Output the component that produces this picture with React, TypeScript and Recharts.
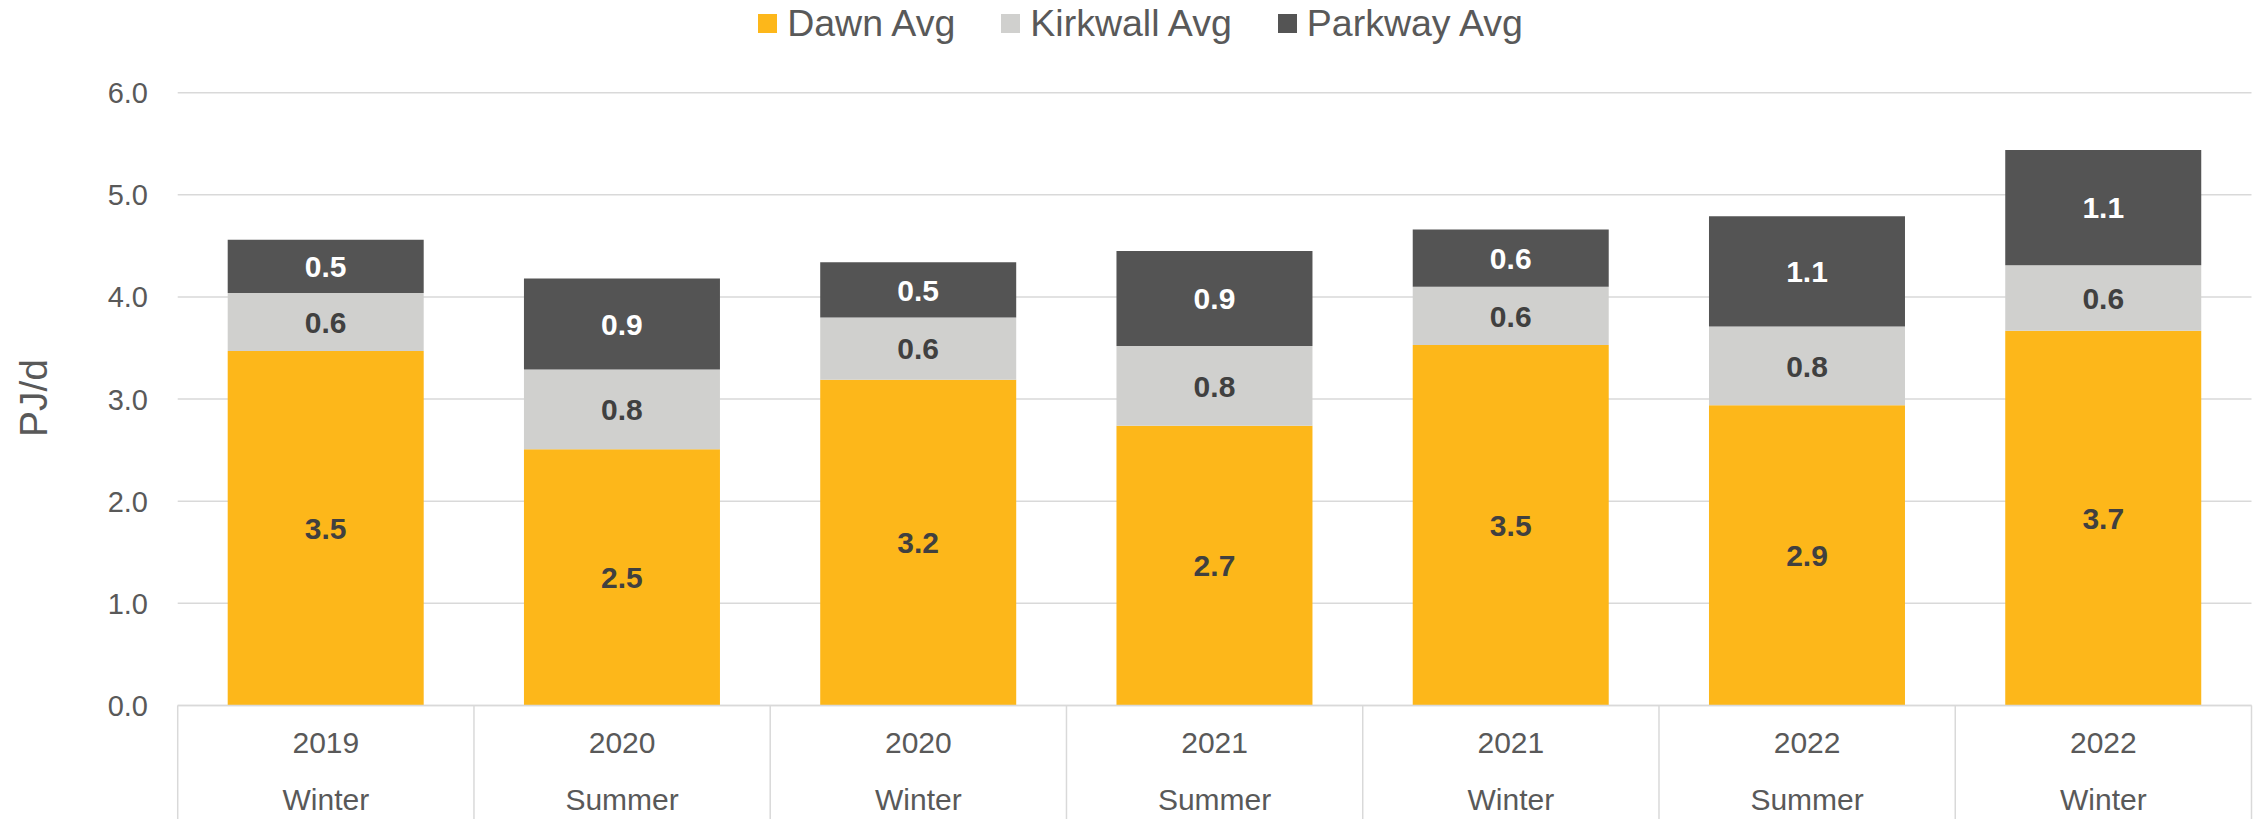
import { BarChart, Bar, XAxis, YAxis, CartesianGrid, Legend, LabelList } from "recharts";

const years = ["2019", "2020", "2020", "2021", "2021", "2022", "2022"];
const seasons = ["Winter", "Summer", "Winter", "Summer", "Winter", "Summer", "Winter"];

const dawnAvg = [3.47, 2.51, 3.19, 2.74, 3.53, 2.94, 3.67];
const kirkwallAvg = [0.57, 0.78, 0.61, 0.78, 0.57, 0.77, 0.64];
const parkwayAvg = [0.52, 0.89, 0.54, 0.93, 0.56, 1.08, 1.13];

const yTicks = [0, 1, 2, 3, 4, 5, 6];

const series = [
  { key: "dawn", name: "Dawn Avg", color: "#FDB71A", labelColor: "#404040" },
  { key: "kirkwall", name: "Kirkwall Avg", color: "#D0D0CE", labelColor: "#404040" },
  { key: "parkway", name: "Parkway Avg", color: "#545454", labelColor: "#FFFFFF" },
];

const data = years.map((y, i) => ({
  label: `${y} ${seasons[i]}`,
  dawn: dawnAvg[i],
  kirkwall: kirkwallAvg[i],
  parkway: parkwayAvg[i],
}));

const W = 2260;
const H = 819;
const PLOT_LEFT = 177.7;
const PLOT_TOP = 92.7;
const PLOT_BOTTOM = 705.5;
const PLOT_RIGHT = 2251.5;
const FONT = '"Liberation Sans", Arial, sans-serif';
const TEXT = "#595959";
const GRID = "#d9d9d9";

const YTick = (props: any) => {
  const { payload } = props;
  return (
    <text x={148} y={payload.coordinate} dy="0.36em" textAnchor="end" fontSize={29} fill={TEXT} fontFamily={FONT}>
      {Number(payload.value).toFixed(1)}
    </text>
  );
};

const XTick = (props: any) => {
  const { payload, index } = props;
  const cx = payload.coordinate;
  const half = payload.offset || (PLOT_RIGHT - PLOT_LEFT) / years.length / 2;
  return (
    <g>
      {index === 0 && <line x1={cx - half} x2={cx - half} y1={PLOT_BOTTOM} y2={H} stroke={GRID} strokeWidth={1.5} />}
      <line x1={cx + half} x2={cx + half} y1={PLOT_BOTTOM} y2={H} stroke={GRID} strokeWidth={1.5} />
      <text x={cx} y={753} textAnchor="middle" fontSize={30} fill={TEXT} fontFamily={FONT}>
        {years[index]}
      </text>
      <text x={cx} y={810} textAnchor="middle" fontSize={30} fill={TEXT} fontFamily={FONT}>
        {seasons[index]}
      </text>
    </g>
  );
};

const renderLegend = () => (
  <div style={{ display: "flex", justifyContent: "center", alignItems: "center", paddingLeft: 21, height: 38 }}>
    {series.map((s, i) => (
      <div key={s.key} style={{ display: "flex", alignItems: "center", marginLeft: i === 0 ? 0 : 46 }}>
        <span style={{ display: "inline-block", width: 19, height: 19, background: s.color, marginRight: 10 }} />
        <span style={{ fontSize: 37.5, lineHeight: "38px", color: TEXT, fontFamily: FONT }}>{s.name}</span>
      </div>
    ))}
  </div>
);

const makeLabel = (color: string) => (props: any) => {
  const { x, y, width, height, value } = props;
  return (
    <text
      x={Number(x) + Number(width) / 2}
      y={Number(y) + Number(height) / 2}
      dy="0.36em"
      textAnchor="middle"
      fontSize={30}
      fontWeight="bold"
      fill={color}
      fontFamily={FONT}
    >
      {Number(value).toFixed(1)}
    </text>
  );
};

export default function App() {
  return (
    <div style={{ position: "absolute", left: 0, top: 0, width: W, height: H, background: "#fff", fontFamily: FONT }}>
      <BarChart
        width={W}
        height={H}
        data={data}
        margin={{ top: PLOT_TOP, right: W - PLOT_RIGHT, left: 0, bottom: 0 }}
        barCategoryGap={50}
      >
        <CartesianGrid vertical={false} stroke={GRID} strokeWidth={1.5} />
        <XAxis
          dataKey="label"
          height={H - PLOT_BOTTOM}
          interval={0}
          tickLine={false}
          axisLine={{ stroke: GRID, strokeWidth: 1.5 }}
          tick={<XTick />}
        />
        <YAxis
          width={PLOT_LEFT}
          domain={[0, 6]}
          ticks={yTicks}
          axisLine={false}
          tickLine={false}
          tick={<YTick />}
          label={{
            content: () => (
              <text
                x={33}
                y={398}
                transform="rotate(-90, 33, 398)"
                textAnchor="middle"
                dy="0.36em"
                fontSize={39}
                fill={TEXT}
                fontFamily={FONT}
              >
                PJ/d
              </text>
            ),
          }}
        />
        <Legend
          verticalAlign="middle"
          align="center"
          layout="horizontal"
          content={renderLegend}
          wrapperStyle={{ top: 4, left: 0, width: W }}
        />
        {series.map((s) => (
          <Bar key={s.key} dataKey={s.key} name={s.name} stackId="a" fill={s.color} isAnimationActive={false}>
            <LabelList dataKey={s.key} content={makeLabel(s.labelColor)} />
          </Bar>
        ))}
      </BarChart>
    </div>
  );
}
